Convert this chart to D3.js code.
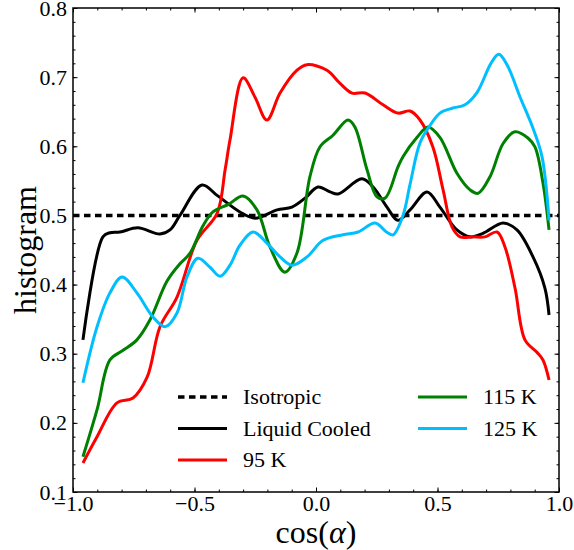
<!DOCTYPE html>
<html>
<head>
<meta charset="utf-8">
<script src="https://cdn.jsdelivr.net/npm/d3@7"></script>
<style>
body { margin: 0; background: #fff; }
</style>
</head>
<body>
<div id="chart"></div>
<script>
"use strict"
// values: [cos(alpha), histogram]
var isotropic = 0.5;

var liquidCooled = [[-0.959,0.32],[-0.877,0.469],[-0.848,0.475],[-0.807,0.476],[-0.733,0.482],[-0.642,0.473],
	[-0.601,0.479],[-0.560,0.500],[-0.469,0.544],[-0.407,0.529],[-0.313,0.505],[-0.251,0.496],[-0.160,0.508],
	[-0.099,0.512],[-0.045,0.525],[0.008,0.541],[0.058,0.534],[0.091,0.531],[0.189,0.553],[0.235,0.541],
	[0.292,0.512],[0.337,0.493],[0.387,0.508],[0.457,0.534],[0.510,0.512],[0.580,0.479],[0.634,0.469],
	[0.687,0.474],[0.770,0.489],[0.827,0.479],[0.893,0.440],[0.942,0.395],[0.959,0.356]];

var k95 = [[-0.959,0.142],[-0.901,0.180],[-0.819,0.229],[-0.753,0.236],[-0.695,0.266],[-0.642,0.339],
	[-0.572,0.382],[-0.490,0.464],[-0.407,0.503],[-0.374,0.566],[-0.354,0.609],[-0.300,0.699],[-0.251,0.671],
	[-0.202,0.638],[-0.148,0.677],[-0.078,0.710],[-0.037,0.718],[0.045,0.710],[0.099,0.691],[0.148,0.677],
	[0.202,0.677],[0.276,0.660],[0.337,0.648],[0.387,0.651],[0.428,0.638],[0.481,0.599],[0.523,0.537],
	[0.560,0.483],[0.593,0.469],[0.646,0.469],[0.695,0.469],[0.745,0.476],[0.778,0.454],[0.819,0.395],
	[0.860,0.320],[0.909,0.302],[0.934,0.291],[0.959,0.262]];

var k115 = [[-0.959,0.151],[-0.901,0.219],[-0.848,0.291],[-0.794,0.305],[-0.737,0.320],[-0.683,0.349],
	[-0.613,0.405],[-0.560,0.430],[-0.519,0.445],[-0.465,0.485],[-0.424,0.505],[-0.360,0.516],[-0.300,0.528],
	[-0.243,0.508],[-0.189,0.454],[-0.128,0.418],[-0.078,0.446],[-0.025,0.556],[0.016,0.599],[0.070,0.616],
	[0.132,0.638],[0.160,0.628],[0.210,0.566],[0.251,0.527],[0.284,0.525],[0.337,0.570],[0.358,0.585],
	[0.416,0.613],[0.461,0.628],[0.510,0.613],[0.580,0.561],[0.634,0.537],[0.667,0.532],[0.716,0.556],
	[0.770,0.604],[0.819,0.621],[0.872,0.612],[0.901,0.599],[0.934,0.547],[0.959,0.479]];

var k125 = [[-0.959,0.258],[-0.901,0.339],[-0.848,0.388],[-0.798,0.411],[-0.737,0.388],[-0.671,0.353],
	[-0.621,0.339],[-0.572,0.359],[-0.531,0.411],[-0.486,0.438],[-0.436,0.425],[-0.395,0.412],[-0.354,0.428],
	[-0.313,0.457],[-0.259,0.476],[-0.202,0.460],[-0.148,0.440],[-0.099,0.428],[-0.037,0.440],[0.029,0.464],
	[0.111,0.472],[0.173,0.476],[0.243,0.489],[0.290,0.476],[0.317,0.472],[0.358,0.500],[0.387,0.545],
	[0.428,0.605],[0.469,0.630],[0.510,0.648],[0.560,0.655],[0.613,0.660],[0.663,0.678],[0.720,0.720],
	[0.752,0.733],[0.786,0.718],[0.840,0.671],[0.893,0.626],[0.930,0.585],[0.959,0.493]];

var xTicks = [-1, -0.5, 0, 0.5, 1];
var yTicks = [0.1, 0.2, 0.3, 0.4, 0.5, 0.6, 0.7, 0.8];
var legendLabels = ["Isotropic", "Liquid Cooled", "95 K", "115 K", "125 K"];

var width = 574,
	height = 550;
var margin = {left: 73, right: 15, top: 8, bottom: 58};
var serif = "'Liberation Serif', 'Times New Roman', serif";

var svg = d3.select("#chart").append("svg")
	.attr("width", width)
	.attr("height", height)
	.style("font-family", serif);

var xscale = d3.scaleLinear().domain([-1, 1]).range([margin.left, width - margin.right]);
var yscale = d3.scaleLinear().domain([0.1, 0.8]).range([height - margin.bottom, margin.top]);
var fmt = d3.format(".1f");

var series = [
	{data: liquidCooled, color: "#000000"},
	{data: k95, color: "#ff0000"},
	{data: k115, color: "#008000"},
	{data: k125, color: "#00bfff"}
];

var line = d3.line()
	.x(function(d) { return xscale(d[0]); })
	.y(function(d) { return yscale(d[1]); })
	.curve(d3.curveCatmullRom.alpha(0.5));

// isotropic reference
svg.append("line")
	.attr("x1", xscale(-1)).attr("x2", xscale(1))
	.attr("y1", yscale(isotropic)).attr("y2", yscale(isotropic))
	.style("stroke", "#000").style("stroke-width", 3.5)
	.style("stroke-dasharray", "6.5,4.5");

svg.selectAll("path.series").data(series).enter().append("path")
	.attr("class", "series")
	.attr("d", function(d) { return line(d.data); })
	.style("fill", "none")
	.style("stroke", function(d) { return d.color; })
	.style("stroke-width", 3)
	.style("stroke-linejoin", "round");

// axes, ticks pointing inward on all four sides
var minorX = d3.range(-1, 1.0001, 0.1),
	minorY = d3.range(0.1, 0.8001, 0.02);
var bottom = height - margin.bottom, right = width - margin.right;

function addAxis(axis, tr, labels) {
	var g = svg.append("g").attr("transform", tr).call(axis);
	g.attr("font-family", null);
	g.select(".domain").remove();
	g.selectAll("line").style("stroke", "#000").style("stroke-width", 1);
	g.selectAll("text").style("font-size", "22px").style("fill", "#000")
		.style("font-family", serif);
	if (!labels) g.selectAll("text").remove();
	return g;
}
addAxis(d3.axisBottom(xscale).tickValues(minorX).tickSize(-2.5).tickFormat(""), "translate(0," + bottom + ")", false);
addAxis(d3.axisTop(xscale).tickValues(minorX).tickSize(-2.5).tickFormat(""), "translate(0," + margin.top + ")", false);
addAxis(d3.axisLeft(yscale).tickValues(minorY).tickSize(-2.5).tickFormat(""), "translate(" + margin.left + ",0)", false);
addAxis(d3.axisRight(yscale).tickValues(minorY).tickSize(-2.5).tickFormat(""), "translate(" + right + ",0)", false);
addAxis(d3.axisBottom(xscale).tickValues(xTicks).tickSize(-4.5).tickPadding(3).tickFormat(fmt), "translate(0," + bottom + ")", true);
addAxis(d3.axisTop(xscale).tickValues(xTicks).tickSize(-4.5).tickFormat(""), "translate(0," + margin.top + ")", false);
addAxis(d3.axisLeft(yscale).tickValues(yTicks).tickSize(-4.5).tickPadding(6).tickFormat(fmt), "translate(" + margin.left + ",0)", true);
addAxis(d3.axisRight(yscale).tickValues(yTicks).tickSize(-4.5).tickFormat(""), "translate(" + right + ",0)", false);

svg.append("rect")
	.attr("x", margin.left).attr("y", margin.top)
	.attr("width", right - margin.left).attr("height", bottom - margin.top)
	.style("fill", "none").style("stroke", "#000").style("stroke-width", 1.5);

// axis titles
svg.append("text")
	.attr("transform", "translate(25," + ((margin.top + bottom) / 2) + ") rotate(-90)")
	.attr("text-anchor", "middle").attr("dominant-baseline", "central")
	.style("font-family", serif)
	.style("font-size", "32px")
	.text("histogram");
var xl = svg.append("text")
	.attr("x", (margin.left + right) / 2).attr("y", 543)
	.attr("text-anchor", "middle")
	.style("font-family", serif)
	.style("font-size", "32px");
xl.append("tspan").text("cos(");
xl.append("tspan").style("font-style", "italic").text("α");
xl.append("tspan").text(")");

// legend
var legendItems = [
	{label: legendLabels[0], color: "#000", dash: "6.5,4.5", col: 0, row: 0},
	{label: legendLabels[1], color: "#000", dash: null, col: 0, row: 1},
	{label: legendLabels[2], color: "#ff0000", dash: null, col: 0, row: 2},
	{label: legendLabels[3], color: "#008000", dash: null, col: 1, row: 0},
	{label: legendLabels[4], color: "#00bfff", dash: null, col: 1, row: 1}
];
var colX = [178, 418], rowY = [397, 428.5, 460];
var leg = svg.selectAll("g.leg").data(legendItems).enter().append("g")
	.attr("class", "leg")
	.attr("transform", function(d) { return "translate(" + colX[d.col] + "," + rowY[d.row] + ")"; });
leg.append("line")
	.attr("x1", 0).attr("x2", 49)
	.style("stroke", function(d) { return d.color; })
	.style("stroke-width", function(d) { return d.dash ? 3.5 : 3; })
	.style("stroke-dasharray", function(d) { return d.dash; });
leg.append("text")
	.attr("x", 65).attr("dy", "0.33em")
	.style("font-family", serif)
	.style("font-size", "22px")
	.text(function(d) { return d.label; });
</script>
</body>
</html>
